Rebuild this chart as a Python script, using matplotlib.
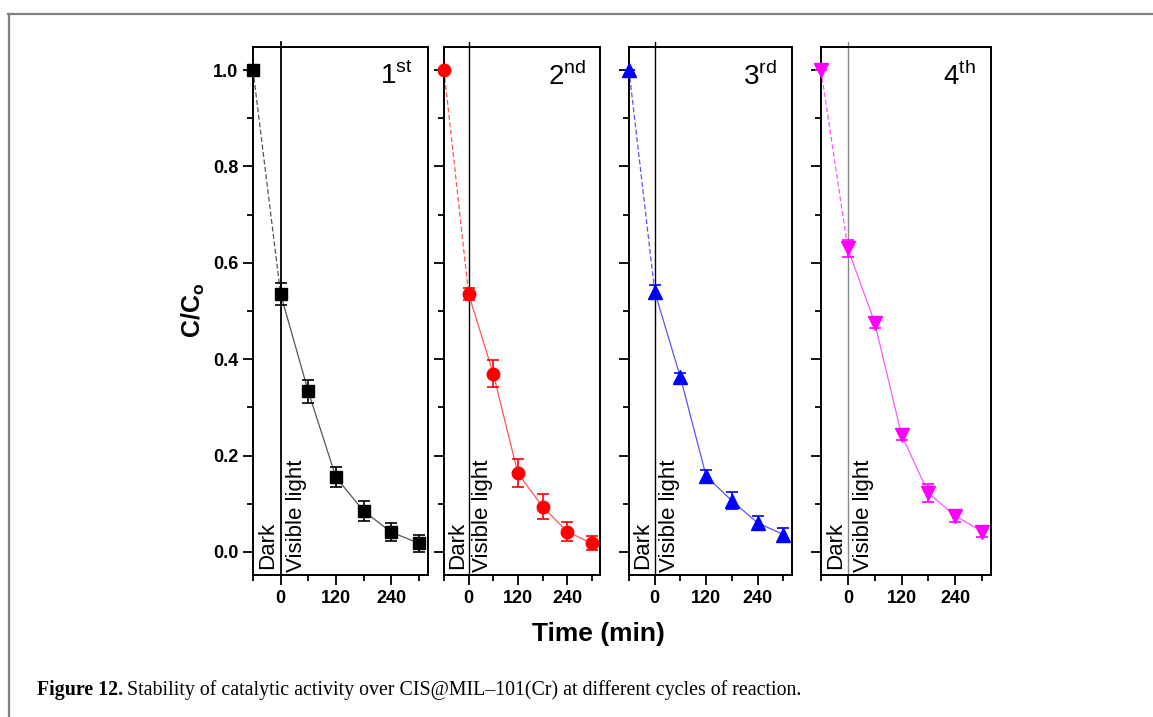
import numpy as np
import matplotlib.pyplot as plt
from matplotlib.lines import Line2D

plt.rcParams['font.family'] = ['Liberation Sans', 'DejaVu Sans']
plt.rcParams['mathtext.fontset'] = 'custom'
plt.rcParams['mathtext.rm'] = 'Liberation Sans'
plt.rcParams['mathtext.bf'] = 'Liberation Sans:bold'

# data (time in min, C/Co and error)
time = [-60, 0, 60, 120, 180, 240, 300]
c1 = [1.0, 0.535, 0.333, 0.155, 0.085, 0.041, 0.018]
e1 = [0.0, 0.023, 0.024, 0.021, 0.021, 0.019, 0.018]
c2 = [1.0, 0.535, 0.37, 0.163, 0.094, 0.042, 0.018]
e2 = [0.0, 0.012, 0.028, 0.029, 0.026, 0.02, 0.014]
c3 = [1.0, 0.54, 0.362, 0.157, 0.106, 0.06, 0.036]
e3 = [0.0, 0.015, 0.01, 0.013, 0.018, 0.014, 0.014]
c4 = [1.0, 0.63, 0.476, 0.243, 0.122, 0.075, 0.042]
e4 = [0.0, 0.018, 0.012, 0.01, 0.018, 0.012, 0.012]

cycles = ['1', '2', '3', '4']
sups = ['st', 'nd', 'rd', 'th']
colors = ['black', 'red', 'blue', 'magenta']
line_colors = ['#555555', '#ff5555', '#5555ff', '#ff55ff']
markers = ['s', 'o', '^', 'v']
msizes = [8, 9, 9.5, 9.5]
vline_colors = ['black', 'black', 'black', '#888888']
series = [(c1, e1), (c2, e2), (c3, e3), (c4, e4)]

W, H = 1153, 717
fig = plt.figure(figsize=(W / 100, H / 100), dpi=100)

# panel pixel extents (left, right)
panels = [(253, 428), (444, 600), (629, 792), (821, 991)]
top, bottom = 47, 575

for i, (l, r) in enumerate(panels):
    ax = fig.add_axes([l / W, 1 - bottom / H, (r - l) / W, (bottom - top) / H])
    c, e = series[i]
    ax.axvline(0, color=vline_colors[i], lw=1.3 if i == 0 else 1.0,
               ymin=0, ymax=1.01, clip_on=False, zorder=1)
    # dark period segment dashed, light period solid
    ax.plot(time[:2], c[:2], color=line_colors[i], lw=0.9, ls=(0, (4, 2)), zorder=2)
    ax.plot(time[1:], c[1:], color=line_colors[i], lw=0.9, zorder=2)
    ax.errorbar(time, c, yerr=e, fmt=markers[i], color=colors[i],
                ms=msizes[i], capsize=4, elinewidth=1.2, capthick=1.2,
                zorder=3, clip_on=False)
    ax.set_xlim(-60, 320)
    ax.set_ylim(-0.048, 1.048)
    ax.set_xticks([0, 120, 240])
    ax.set_xticks([-60, 60, 180, 300], minor=True)
    ax.set_yticks(np.arange(0, 1.01, 0.2))
    ax.set_yticks(np.arange(0.1, 1.0, 0.2), minor=True)
    ax.tick_params(which='both', direction='out', width=1.3, top=False, right=False)
    ax.tick_params(which='major', length=7, labelsize=13)
    ax.tick_params(which='minor', length=4.5)
    for lab in ax.get_xticklabels() + ax.get_yticklabels():
        lab.set_fontweight('bold')
    if i == 0:
        ax.set_yticklabels(['0.0', '0.2', '0.4', '0.6', '0.8', '1.0'], fontweight='bold')
    else:
        ax.set_yticklabels([])
    for s in ax.spines.values():
        s.set_linewidth(1.4)
    ax.text(-28, -0.036, 'Dark', rotation=90, ha='center', va='bottom', fontsize=16)
    ax.text(34, -0.042, 'Visible light', rotation=90, ha='center', va='bottom', fontsize=16)
    ax.text(0.91, 0.972, cycles[i] + r'$^{\mathrm{' + sups[i] + '}}$',
            transform=ax.transAxes, ha='right', va='top', fontsize=20)

fig.text(193 / W, 1 - 310 / H, r'C/C$_{\mathbf{o}}$', rotation=90, ha='center',
         va='center', fontsize=18, fontweight='bold')
fig.text(598 / W, 1 - 634 / H, 'Time (min)', ha='center', va='center',
         fontsize=19, fontweight='bold')

# frame lines
fig.add_artist(Line2D([8 / W, 1], [1 - 14 / H, 1 - 14 / H], color='#808080', lw=1.6))
fig.add_artist(Line2D([9 / W, 9 / W], [1 - 14 / H, 0], color='#808080', lw=1.6))

# caption
renderer = fig.canvas.get_renderer()
t1 = fig.text(37 / W, 1 - 690 / H, 'Figure 12.', family='Liberation Serif',
              fontweight='bold', fontsize=14.3, va='center')
bb = t1.get_window_extent(renderer)
fig.text(bb.x1 / W + 4 / W, 1 - 690 / H,
         'Stability of catalytic activity over CIS@MIL\u2013101(Cr) at different cycles of reaction.',
         family='Liberation Serif', fontsize=14.3, va='center')

fig.savefig('out.png', dpi=100)
